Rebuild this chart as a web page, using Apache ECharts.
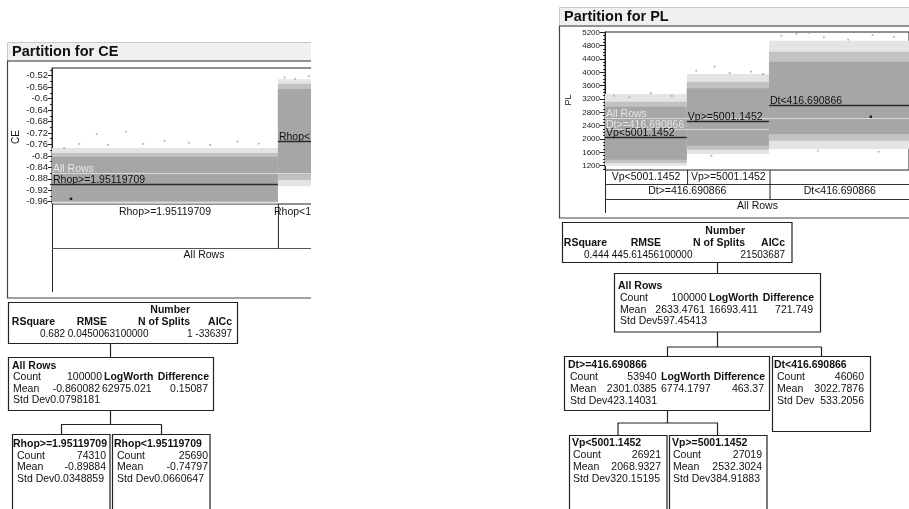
<!DOCTYPE html>
<html><head><meta charset="utf-8">
<script src="https://cdn.jsdelivr.net/npm/echarts@6/dist/echarts.min.js"></script>
<style>html,body{margin:0;padding:0;background:#fff}#c{width:909px;height:509px}</style>
</head><body><div id="c"></div>
<script>
// ================= DATA =================
const totalRows = 100000;

// ---- CE ----
const ceTitle = 'Partition for CE';
const ceAllMean = -0.860082;
const ceLeafNames = ['Rhop>=1.95119709', 'Rhop<1.95119709'];
const ceLeafCounts = [74310, 25690];
const ceLeafMeans = [-0.89884, -0.74797];
const ceLeafSd = ['0.0348859', '0.0660647'];
// point-cloud extents per leaf
const ceCoreLow = [-0.958, -0.864];
const ceCoreHigh = [-0.803, -0.566];
const ceInnerLow = [-0.962, -0.884];
const ceInnerHigh = [-0.790, -0.548];
const ceOuterLow = [-0.966, -0.906];
const ceOuterHigh = [-0.772, -0.532];
const ceOutliers = [[14700, -0.7236], [24340, -0.7155], [4000, -0.772], [9000, -0.758], [18500, -0.762],
  [30000, -0.758], [37000, -0.748], [45000, -0.754], [52000, -0.762], [61000, -0.75], [68000, -0.757],
  [76500, -0.526], [80000, -0.531], [84500, -0.522], [88000, -0.528], [93000, -0.524], [97000, -0.53]];
const ceSelected = [[6250, -0.950]];
const ceTicks = [-0.96, -0.92, -0.88, -0.84, -0.8, -0.76, -0.72, -0.68, -0.64, -0.6, -0.56, -0.52];
const ceMinorTicks = [-0.94, -0.9, -0.86, -0.82, -0.78, -0.74, -0.7, -0.66, -0.62, -0.58, -0.54, -0.5];
const summaryHead = ['RSquare', 'RMSE', 'N of Splits', 'AICc'];
const ceSummaryVals = ['0.682', '0.0450063', '100000', '1', '-336397'];
const ceAllStats = ['100000', '-0.860082', '0.0798181'];
const ceAllSplit = ['62975.021', '0.15087'];

// ---- PL ----
const plTitle = 'Partition for PL';
const plAllMean = 2633.4761;
const plLevel1Names = ['Dt>=416.690866', 'Dt<416.690866'];
const plLevel1Counts = [53940, 46060];
const plLevel1Means = [2301.0385, 3022.7876];
const plLeafNames = ['Vp<5001.1452', 'Vp>=5001.1452', 'Dt<416.690866'];
const plLeafCounts = [26921, 27019, 46060];
const plLeafMeans = [2068.9327, 2532.3024, 3022.7876];
const plCoreLow = [1380, 1800, 2150];
const plCoreHigh = [2970, 3520, 4320];
const plInnerLow = [1280, 1680, 1950];
const plInnerHigh = [3120, 3720, 4620];
const plOuterLow = [1200, 1550, 1700];
const plOuterHigh = [3350, 3950, 4950];
const plOutliers = [[3000, 3300], [8000, 3250], [15000, 3380], [22000, 3290], [30000, 4050], [36000, 4170],
  [41000, 3980], [48000, 4020], [52000, 3950], [58000, 5100], [63000, 5150], [67000, 5180], [72000, 5050],
  [80000, 4980], [88000, 5120], [95000, 5060], [35000, 1500], [70000, 1650], [90000, 1620]];
const plSelected = [[87440, 2668]];
const plTicks = [1200, 1600, 2000, 2400, 2800, 3200, 3600, 4000, 4400, 4800, 5200];
const plMinorTicks = [1100, 1300, 1400, 1500, 1700, 1800, 1900, 2100, 2200, 2300, 2500, 2600, 2700, 2900, 3000,
  3100, 3300, 3400, 3500, 3700, 3800, 3900, 4100, 4200, 4300, 4500, 4600, 4700, 4900, 5000, 5100];
const plSummaryVals = ['0.444', '445.61456', '100000', '2', '1503687'];
const plAllStats = ['100000', '2633.4761', '597.45413'];
const plAllSplit = ['16693.411', '721.749'];
const plDtGeStats = ['53940', '2301.0385', '423.14031'];
const plDtGeSplit = ['6774.1797', '463.37'];
const plDtLtStats = ['46060', '3022.7876', '533.2056'];
const plVpStats = [['26921', '2068.9327', '320.15195'], ['27019', '2532.3024', '384.91883']];

// ================= LAYOUT =================
const FONT = '"Liberation Sans", Arial, Helvetica, sans-serif';
const ceG = {left: 52, top: 68, width: 304, height: 136, yMin: -0.968, yMax: -0.493};
const plG = {left: 605, top: 32, width: 305, height: 138, yMin: 1071, yMax: 5209};
const bandColors = ['#e4e4e4', '#c2c2c2', '#a6a6a6'];

function bandData(counts, oL, oH, iL, iH, cL, cH) {
  const out = []; let s = 0;
  counts.forEach((c, i) => {
    const e = s + c;
    out.push([s, e, oL[i], oH[i], 0]);
    out.push([s, e, iL[i], iH[i], 1]);
    out.push([s, e, cL[i], cH[i], 2]);
    s = e;
  });
  return out;
}
function bandRender(params, api) {
  const p0 = api.coord([api.value(0), api.value(3)]);
  const p1 = api.coord([api.value(1), api.value(2)]);
  return {type: 'rect', shape: {x: p0[0], y: p0[1], width: p1[0] - p0[0], height: p1[1] - p0[1]},
    style: {fill: bandColors[api.value(4)]}};
}
function meanRender(names) {
  return function (params, api) {
    const m = api.value(2), dark = api.value(3) === 1;
    const p0 = api.coord([api.value(0), m]), p1 = api.coord([api.value(1), m]);
    const yy = Math.round(p0[1]) + 0.5;
    return {type: 'group', children: [
      {type: 'line', shape: {x1: p0[0], y1: yy, x2: p1[0], y2: yy},
        style: {stroke: dark ? '#2a2a2a' : '#d8d8d8', lineWidth: dark ? 1.3 : 1}},
      {type: 'text', x: p0[0] + 1, y: yy - 4,
        style: {text: names[params.dataIndex], font: '10.5px ' + FONT, fill: dark ? '#111' : '#e6e6e6',
          align: 'left', verticalAlign: 'middle'}}
    ]};
  };
}
function cum(counts) { const r = [0]; counts.forEach(c => r.push(r[r.length - 1] + c)); return r; }

const ceMeanData = [[0, totalRows, ceAllMean, 0]];
const ceMeanNames = ['All Rows'];
{ const cc = cum(ceLeafCounts); ceLeafMeans.forEach((m, i) => { ceMeanData.push([cc[i], cc[i + 1], m, 1]); ceMeanNames.push(ceLeafNames[i]); }); }
const plMeanData = [[0, totalRows, plAllMean, 0], [0, plLevel1Counts[0], plLevel1Means[0], 0]];
const plMeanNames = ['All Rows', plLevel1Names[0]];
{ const cc = cum(plLeafCounts); plLeafMeans.forEach((m, i) => { plMeanData.push([cc[i], cc[i + 1], m, 1]); plMeanNames.push(plLeafNames[i]); }); }

function yAxes(g, gi, ticks, minor, fs, margin, tlen) {
  const fmt = v => String(+(+v).toFixed(4));
  return [
    {gridIndex: gi, type: 'value', min: g.yMin, max: g.yMax, position: 'left',
      axisLine: {show: true, lineStyle: {color: '#222', width: 1}},
      axisTick: {show: true, customValues: ticks, length: tlen, lineStyle: {color: '#222'}},
      axisLabel: {show: true, customValues: ticks, formatter: fmt, fontSize: fs, color: '#222', margin: margin, fontFamily: FONT},
      splitLine: {show: false}},
    {gridIndex: gi, type: 'value', min: g.yMin, max: g.yMax, position: 'left',
      axisLine: {show: false},
      axisTick: {show: true, customValues: minor, length: 2, lineStyle: {color: '#222'}},
      axisLabel: {show: false}, splitLine: {show: false}}
  ];
}

// ================= GRAPHIC HELPERS =================
const G = [];
function T(x, y, text, o) {
  o = o || {};
  G.push({type: 'text', x: x, y: y, z: 20, style: {text: text,
    font: (o.bold ? 'bold ' : '') + (o.size || 10.5) + 'px ' + FONT,
    fill: o.fill || '#111', align: o.align || 'left', verticalAlign: 'middle'}, rotation: o.rot || 0});
}
function L(x1, y1, x2, y2, c, w) {
  G.push({type: 'line', z: 19, shape: {x1: x1, y1: y1, x2: x2, y2: y2}, style: {stroke: c || '#222', lineWidth: w || 1}});
}
function R(x, y, w, h, fill, stroke, lw, z) {
  G.push({type: 'rect', z: z || 18, shape: {x: x, y: y, width: w, height: h}, style: {fill: fill, stroke: stroke, lineWidth: lw || 1}});
}
function openBox(x, y, w, bottom) {
  G.push({type: 'polyline', z: 19, shape: {points: [[x, bottom], [x, y], [x + w, y], [x + w, bottom]]},
    style: {stroke: '#222', lineWidth: 1.2, fill: null}});
}
function px(g, rows) { return g.left + rows / totalRows * g.width; }

// ---------- CE panel ----------
R(7.5, 42.5, 320, 18.5, '#f0f0f0', '#c8c8c8', 1, 1);
R(7.5, 61, 320, 237, null, '#444', 1.2, 1);
T(12, 51.5, ceTitle, {bold: true, size: 14.5});
T(16, 137, 'CE', {size: 10, align: 'center', rot: Math.PI / 2});
{
  const cc = cum(ceLeafCounts);
  const yA = ceG.top + ceG.height, yB = 248.5, yEnd = 292;
  L(ceG.left + 0.5, yA, ceG.left + 0.5, yEnd, '#222');
  L(ceG.left, yB, ceG.left + ceG.width, yB, '#555');
  L(px(ceG, cc[1]) + 0.5, yA, px(ceG, cc[1]) + 0.5, yB, '#222');
  ceLeafNames.forEach((n, i) => T((px(ceG, cc[i]) + px(ceG, cc[i + 1])) / 2, yA + 8.5, n, {align: 'center'}));
  T(ceG.left + ceG.width / 2, yB + 7, 'All Rows', {align: 'center'});
}
// CE tree
R(8.5, 302.5, 229, 41, '#fff', '#222', 1.2);
T(190, 310.5, 'Number', {bold: true, align: 'right'});
[55, 107, 190, 232].forEach((x, i) => T(x, 322.5, summaryHead[i], {bold: true, align: 'right'}));
T(40, 334.5, ceSummaryVals[0] + ' ' + ceSummaryVals[1] + ceSummaryVals[2], {size: 10});
T(232, 334.5, ceSummaryVals[3] + ' ' + ceSummaryVals[4], {size: 10, align: 'right'});
L(110.5, 343.5, 110.5, 357, '#222', 1.2);
R(8.5, 357.5, 205, 53, '#fff', '#222', 1.2);
T(12, 366, 'All Rows', {bold: true});
T(13, 377.5, 'Count'); T(102, 377.5, ceAllStats[0], {align: 'right'});
T(104, 377.5, 'LogWorth', {bold: true}); T(209, 377.5, 'Difference', {bold: true, align: 'right'});
T(13, 389, 'Mean'); T(100, 389, ceAllStats[1], {align: 'right'});
T(102, 389, ceAllSplit[0]); T(208, 389, ceAllSplit[1], {align: 'right'});
T(13, 400.5, 'Std Dev' + ceAllStats[2]);
L(110.5, 410.5, 110.5, 424.5, '#222', 1.2);
L(61, 424.5, 161.5, 424.5, '#222', 1.2);
L(61.5, 424.5, 61.5, 434.5, '#222', 1.2);
L(161.5, 424.5, 161.5, 434.5, '#222', 1.2);
[[12.5, 13, 17, 106], [112.5, 114, 117, 208]].forEach((b, i) => {
  openBox(b[0], 434.5, 97.5, 512);
  T(b[1], 444.5, ceLeafNames[i], {bold: true});
  T(b[2], 456, 'Count'); T(b[3], 456, String(ceLeafCounts[i]), {align: 'right'});
  T(b[2], 467.5, 'Mean'); T(b[3], 467.5, String(ceLeafMeans[i]), {align: 'right'});
  T(b[2], 479, 'Std Dev' + ceLeafSd[i]);
});
// white cover: the CE panel is cropped on the right in the reference
R(311, 0, 244, 509, '#fff', null, 0, 50);

// ---------- PL panel ----------
R(559.5, 7.5, 360, 18.5, '#f0f0f0', '#c8c8c8', 1, 1);
R(559.5, 26, 360, 192, null, '#444', 1.2, 1);
T(564, 16.5, plTitle, {bold: true, size: 14.5});
T(569, 100, 'PL', {size: 9, align: 'center', rot: Math.PI / 2});
{
  const cc = cum(plLeafCounts), c1 = cum(plLevel1Counts);
  const yA = plG.top + plG.height, yB = 184.5, yC = 199.5, yEnd = 213;
  L(plG.left + 0.5, yA, plG.left + 0.5, yEnd, '#222');
  L(plG.left, yB, plG.left + plG.width, yB, '#333');
  L(plG.left, yC, plG.left + plG.width, yC, '#333');
  L(px(plG, cc[1]) + 0.5, yA, px(plG, cc[1]) + 0.5, yB, '#222');
  L(px(plG, c1[1]) + 0.5, yA, px(plG, c1[1]) + 0.5, yC, '#222');
  [0, 1].forEach(i => T((px(plG, cc[i]) + px(plG, cc[i + 1])) / 2, yA + 7, plLeafNames[i], {align: 'center'}));
  plLevel1Names.forEach((n, i) => T((px(plG, c1[i]) + px(plG, c1[i + 1])) / 2, yB + 6.5, n, {align: 'center'}));
  T(plG.left + plG.width / 2, yC + 6.5, 'All Rows', {align: 'center'});
}
R(562.5, 222.5, 229.5, 40, '#fff', '#222', 1.2);
T(745, 231, 'Number', {bold: true, align: 'right'});
[607, 661, 745, 785].forEach((x, i) => T(x, 243, summaryHead[i], {bold: true, align: 'right'}));
T(584, 255, plSummaryVals[0] + ' ' + plSummaryVals[1] + plSummaryVals[2], {size: 10});
T(785, 255, plSummaryVals[3] + plSummaryVals[4], {size: 10, align: 'right'});
L(717.5, 262.5, 717.5, 273, '#222', 1.2);
R(614.5, 273.5, 206, 58.5, '#fff', '#222', 1.2);
T(618, 286.5, 'All Rows', {bold: true});
T(620, 298.5, 'Count'); T(706.5, 298.5, plAllStats[0], {align: 'right'});
T(709, 298.5, 'LogWorth', {bold: true}); T(814, 298.5, 'Difference', {bold: true, align: 'right'});
T(620, 310, 'Mean'); T(705, 310, plAllStats[1], {align: 'right'});
T(709, 310, plAllSplit[0]); T(813, 310, plAllSplit[1], {align: 'right'});
T(620, 321.5, 'Std Dev' + plAllStats[2]);
L(717.5, 332, 717.5, 347, '#222', 1.2);
L(667, 347, 821.5, 347, '#222', 1.2);
L(667.5, 347, 667.5, 356.5, '#222', 1.2);
L(821.5, 347, 821.5, 356.5, '#222', 1.2);
R(564.5, 356.5, 205, 54, '#fff', '#222', 1.2);
T(568, 365.5, plLevel1Names[0], {bold: true});
T(570, 377.5, 'Count'); T(656.5, 377.5, plDtGeStats[0], {align: 'right'});
T(661, 377.5, 'LogWorth', {bold: true}); T(765, 377.5, 'Difference', {bold: true, align: 'right'});
T(570, 389.5, 'Mean'); T(656.5, 389.5, plDtGeStats[1], {align: 'right'});
T(661, 389.5, plDtGeSplit[0]); T(764, 389.5, plDtGeSplit[1], {align: 'right'});
T(570, 401, 'Std Dev' + plDtGeStats[2]);
R(772.5, 356.5, 98, 75, '#fff', '#222', 1.2);
T(774, 365.5, plLevel1Names[1], {bold: true});
T(777, 377.5, 'Count'); T(864, 377.5, plDtLtStats[0], {align: 'right'});
T(777, 389.5, 'Mean'); T(864, 389.5, plDtLtStats[1], {align: 'right'});
T(777, 401, 'Std Dev'); T(864, 401, plDtLtStats[2], {align: 'right'});
L(667.5, 410.5, 667.5, 423, '#222', 1.2);
L(617.5, 423, 718, 423, '#222', 1.2);
L(618, 423, 618, 435.5, '#222', 1.2);
L(717.5, 423, 717.5, 435.5, '#222', 1.2);
[[569.5, 572, 573, 661], [669.5, 672, 673, 762]].forEach((b, i) => {
  openBox(b[0], 435.5, 97.5, 512);
  T(b[1], 443.5, plLeafNames[i], {bold: true});
  T(b[2], 455.5, 'Count'); T(b[3], 455.5, plVpStats[i][0], {align: 'right'});
  T(b[2], 467, 'Mean'); T(b[3], 467, plVpStats[i][1], {align: 'right'});
  T(b[2], 479, 'Std Dev' + plVpStats[i][2]);
});

// ================= CHART =================
const chart = echarts.init(document.getElementById('c'), null, {renderer: 'canvas'});
chart.setOption({
  animation: false,
  backgroundColor: '#fff',
  grid: [
    {left: ceG.left, top: ceG.top, width: ceG.width, height: ceG.height, show: true, borderColor: '#222', borderWidth: 1, backgroundColor: '#fff'},
    {left: plG.left, top: plG.top, width: plG.width, height: plG.height, show: true, borderColor: '#222', borderWidth: 1, backgroundColor: '#fff'}
  ],
  xAxis: [
    {gridIndex: 0, type: 'value', min: 0, max: totalRows, show: false},
    {gridIndex: 1, type: 'value', min: 0, max: totalRows, show: false}
  ],
  yAxis: [].concat(
    yAxes(ceG, 0, ceTicks, ceMinorTicks, 9.5, 4, 4),
    yAxes(plG, 1, plTicks, plMinorTicks, 8, 5, 5)
  ),
  series: [
    {type: 'custom', xAxisIndex: 0, yAxisIndex: 0, renderItem: bandRender, encode: {x: [0, 1], y: [2, 3]},
      data: bandData(ceLeafCounts, ceOuterLow, ceOuterHigh, ceInnerLow, ceInnerHigh, ceCoreLow, ceCoreHigh), z: 2},
    {type: 'scatter', xAxisIndex: 0, yAxisIndex: 0, data: ceOutliers, symbol: 'rect', symbolSize: 1.8,
      itemStyle: {color: '#a0a0a0'}, z: 3, silent: true},
    {type: 'custom', xAxisIndex: 0, yAxisIndex: 0, renderItem: meanRender(ceMeanNames), encode: {x: [0, 1], y: 2},
      data: ceMeanData, z: 4},
    {type: 'scatter', xAxisIndex: 0, yAxisIndex: 0, data: ceSelected, symbol: 'rect', symbolSize: 2.5,
      itemStyle: {color: '#000'}, z: 5},
    {type: 'custom', xAxisIndex: 1, yAxisIndex: 2, renderItem: bandRender, encode: {x: [0, 1], y: [2, 3]},
      data: bandData(plLeafCounts, plOuterLow, plOuterHigh, plInnerLow, plInnerHigh, plCoreLow, plCoreHigh), z: 2},
    {type: 'scatter', xAxisIndex: 1, yAxisIndex: 2, data: plOutliers, symbol: 'rect', symbolSize: 1.8,
      itemStyle: {color: '#a0a0a0'}, z: 3, silent: true},
    {type: 'custom', xAxisIndex: 1, yAxisIndex: 2, renderItem: meanRender(plMeanNames), encode: {x: [0, 1], y: 2},
      data: plMeanData, z: 4},
    {type: 'scatter', xAxisIndex: 1, yAxisIndex: 2, data: plSelected, symbol: 'rect', symbolSize: 2.5,
      itemStyle: {color: '#000'}, z: 5}
  ],
  graphic: {elements: G}
});
</script>
</body></html>
